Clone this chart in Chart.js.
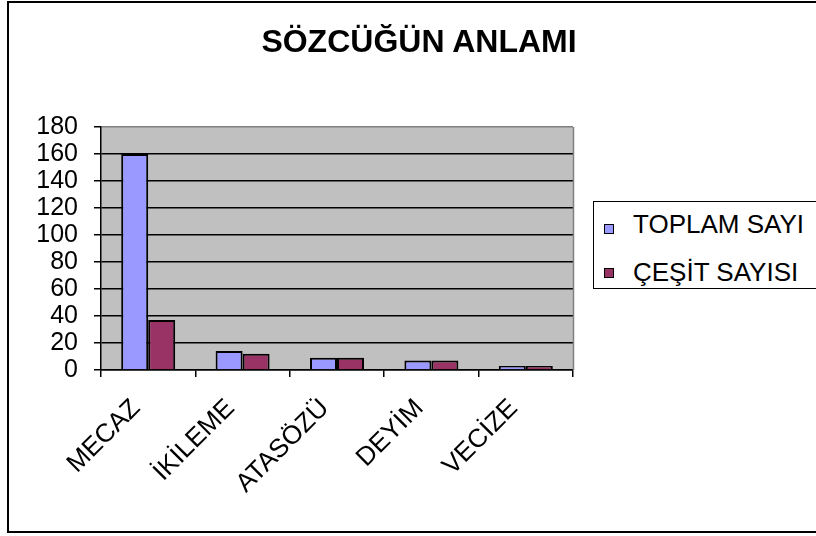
<!DOCTYPE html>
<html>
<head>
<meta charset="utf-8">
<title>SÖZCÜĞÜN ANLAMI</title>
<script src="https://cdn.jsdelivr.net/npm/chart.js@4.4.1/dist/chart.umd.min.js"></script>
<style>
  html, body { margin: 0; padding: 0; background: #fff; overflow: hidden; }
  #wrap { position: relative; width: 816px; height: 536px; overflow: hidden;
          font-family: 'Liberation Sans', Arial, sans-serif; color: #000; }
  #frame { position: absolute; left: 7px; top: 1px; width: 900px; height: 532px;
           border: 2px solid #000; box-sizing: border-box; }
  #chart { position: absolute; left: 0; top: 0; }
  #title { position: absolute; left: 22px; right: 0; top: 25px; text-align: center;
           font-weight: bold; font-size: 32px; line-height: 32px; }
  #legend { position: absolute; left: 593px; top: 201px; width: 300px; height: 88px;
            border: 1px solid #000; box-sizing: border-box; background: #fff; }
  .legend-row { position: absolute; left: 39px; font-size: 26px; line-height: 26px; white-space: nowrap; }
  .legend-box { position: absolute; left: 10px; width: 10px; height: 10px;
                border: 1px solid #000; box-sizing: border-box; }
</style>
</head>
<body>
<div id="wrap">
  <div id="frame"></div>
  <canvas id="chart" width="816" height="536"></canvas>
  <div id="title">SÖZCÜĞÜN ANLAMI</div>
  <div id="legend"></div>
</div>
<script>
// Chart data
const categories = ['MECAZ', 'İKİLEME', 'ATASÖZÜ', 'DEYİM', 'VECİZE'];
const toplamSayi = [160, 14, 9, 7, 3];
const cesitSayisi = [37, 12, 9, 7, 3];
const seriesNames = ['TOPLAM SAYI', 'ÇEŞİT SAYISI'];
const yMin = 0;
const yMax = 180;
const yStep = 20;

const colors = ['#9999ff', '#993366'];
const font = "'Liberation Sans', Arial, sans-serif";

// Grey plot area + grey right edge, like the old Excel chart
const plotArea = {
  id: 'plotArea',
  beforeDraw(chart) {
    const { ctx, chartArea: a } = chart;
    ctx.save();
    ctx.fillStyle = '#c0c0c0';
    ctx.fillRect(a.left, a.top, a.width, a.height);
    ctx.restore();
  },
  afterDraw(chart) {
    const { ctx, chartArea: a } = chart;
    ctx.save();
    ctx.strokeStyle = '#808080';
    ctx.lineWidth = 1.5;
    ctx.beginPath();
    ctx.moveTo(Math.round(a.right) + 0.5, a.top);
    ctx.lineTo(Math.round(a.right) + 0.5, a.bottom);
    ctx.stroke();
    ctx.restore();
  }
};

// HTML legend
function buildLegend() {
  const legend = document.getElementById('legend');
  const rowTops = [9, 57];
  const boxTops = [22, 66];
  seriesNames.forEach((name, i) => {
    const box = document.createElement('div');
    box.className = 'legend-box';
    box.style.top = boxTops[i] + 'px';
    box.style.background = colors[i];
    legend.appendChild(box);
    const row = document.createElement('div');
    row.className = 'legend-row';
    row.style.top = rowTops[i] + 'px';
    row.textContent = name;
    legend.appendChild(row);
  });
}

function initChart() {
  const ctx = document.getElementById('chart').getContext('2d');
  new Chart(ctx, {
    type: 'bar',
    data: {
      labels: categories,
      datasets: [
        {
          label: seriesNames[0],
          data: toplamSayi,
          backgroundColor: colors[0],
          borderColor: '#000',
          borderWidth: 2
        },
        {
          label: seriesNames[1],
          data: cesitSayisi,
          backgroundColor: colors[1],
          borderColor: '#000',
          borderWidth: 2
        }
      ]
    },
    options: {
      responsive: false,
      animation: false,
      devicePixelRatio: 1,
      categoryPercentage: 0.572,
      barPercentage: 1.0,
      layout: {
        padding: { left: 22, top: 127, right: 243, bottom: 0 }
      },
      plugins: {
        legend: { display: false },
        title: { display: false },
        tooltip: { enabled: false }
      },
      scales: {
        x: {
          offset: true,
          grid: {
            offset: true,
            drawOnChartArea: false,
            drawTicks: true,
            tickLength: 7,
            tickColor: '#000',
            lineWidth: 1.5
          },
          border: { color: '#000', width: 1.5 },
          ticks: {
            autoSkip: false,
            minRotation: 45,
            maxRotation: 45,
            padding: 18,
            labelOffset: -12,
            color: '#000',
            font: { family: font, size: 26, lineHeight: 1 }
          },
          afterFit(scale) { scale.height = 166; }
        },
        y: {
          min: yMin,
          max: yMax,
          grid: {
            color: c => (c.tick && c.tick.value === yMax ? '#808080' : '#000'),
            lineWidth: 1.5,
            tickLength: 7,
            tickColor: '#000'
          },
          border: { color: '#000', width: 1.5 },
          ticks: {
            stepSize: yStep,
            autoSkip: false,
            padding: 16,
            color: '#000',
            font: { family: font, size: 25, lineHeight: 1 }
          },
          afterFit(scale) { scale.width = 79; }
        }
      }
    },
    plugins: [plotArea]
  });
}

buildLegend();
initChart();
</script>
</body>
</html>
